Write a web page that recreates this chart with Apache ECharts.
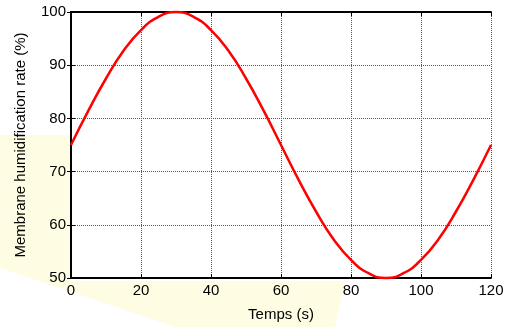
<!DOCTYPE html>
<html>
<head>
<meta charset="utf-8">
<script src="https://cdn.jsdelivr.net/npm/echarts@6/dist/echarts.min.js"></script>
<style>
  html, body { margin: 0; padding: 0; background: #fff; }
  #chart { width: 510px; height: 327px; }
</style>
</head>
<body>
<div id="chart"></div>
<script>
// values, one every 5 s
var times = [0, 5, 10, 15, 20, 25, 30, 35, 40, 45, 50, 55, 60,
             65, 70, 75, 80, 85, 90, 95, 100, 105, 110, 115, 120];
var humidity = [75, 81.5, 87.5, 92.7, 96.6, 99.1, 100, 99.1, 96.6, 92.7, 87.5, 81.5, 75,
                68.5, 62.5, 57.3, 53.4, 50.9, 50, 50.9, 53.4, 57.3, 62.5, 68.5, 75];
var xTicks = [0, 20, 40, 60, 80, 100, 120];
var yTicks = [50, 60, 70, 80, 90, 100];

var points = times.map(function (t, i) { return [t, humidity[i]]; });

var chart = echarts.init(document.getElementById('chart'));
var font = 'Liberation Sans, Arial, sans-serif';

chart.setOption({
  backgroundColor: '#fff',
  animation: false,
  graphic: [{
    // faint watermark behind the figure
    type: 'polygon',
    z: -10,
    shape: { points: [[0, 135], [71, 135], [71, 281], [345, 281], [335, 327], [175, 327], [0, 268]] },
    style: { fill: '#fefde4' }
  }, {
    type: 'rect',
    z: -10,
    shape: { x: 71, y: 12, width: 420, height: 268 },
    style: { fill: '#fff' }
  }],
  grid: { left: 71, right: 19, top: 12, bottom: 47, containLabel: false },
  xAxis: [{
    type: 'value',
    min: xTicks[0], max: xTicks[xTicks.length - 1], interval: 20,
    name: 'Temps (s)', nameLocation: 'middle', nameGap: 29,
    nameTextStyle: { color: '#000', fontSize: 15, fontFamily: font },
    axisLine: { lineStyle: { color: '#000', width: 2 } },
    axisTick: { inside: true, length: 4, lineStyle: { color: '#000' } },
    axisLabel: { color: '#000', fontSize: 15, fontFamily: font, margin: 5 },
    splitLine: { show: true, lineStyle: { color: '#555', type: [1, 1], width: 1 } }
  }, {
    type: 'value', position: 'top',
    min: xTicks[0], max: xTicks[xTicks.length - 1], interval: 20,
    axisLine: { lineStyle: { color: '#000', width: 2 } },
    axisTick: { inside: true, length: 4, lineStyle: { color: '#000' } },
    axisLabel: { show: false }, splitLine: { show: false }
  }],
  yAxis: [{
    type: 'value',
    min: yTicks[0], max: yTicks[yTicks.length - 1], interval: 10,
    name: 'Membrane humidification rate (%)', nameLocation: 'middle', nameGap: 43,
    nameTextStyle: { color: '#000', fontSize: 15, fontFamily: font },
    axisLine: { lineStyle: { color: '#000', width: 2 } },
    axisTick: { inside: true, length: 4, lineStyle: { color: '#000' } },
    axisLabel: { color: '#000', fontSize: 15, fontFamily: font, margin: 5 },
    splitLine: { show: true, lineStyle: { color: '#555', type: [1, 1], width: 1 } }
  }, {
    type: 'value', position: 'right',
    min: yTicks[0], max: yTicks[yTicks.length - 1], interval: 10,
    axisLine: { lineStyle: { color: '#000', width: 2 } },
    axisTick: { inside: true, length: 4, lineStyle: { color: '#000' } },
    axisLabel: { show: false }, splitLine: { show: false }
  }],
  series: [{
    type: 'line',
    data: points,
    smooth: true,
    symbol: 'none',
    clip: false,
    lineStyle: { color: '#ff0000', width: 2.5 }
  }]
});
</script>
</body>
</html>
